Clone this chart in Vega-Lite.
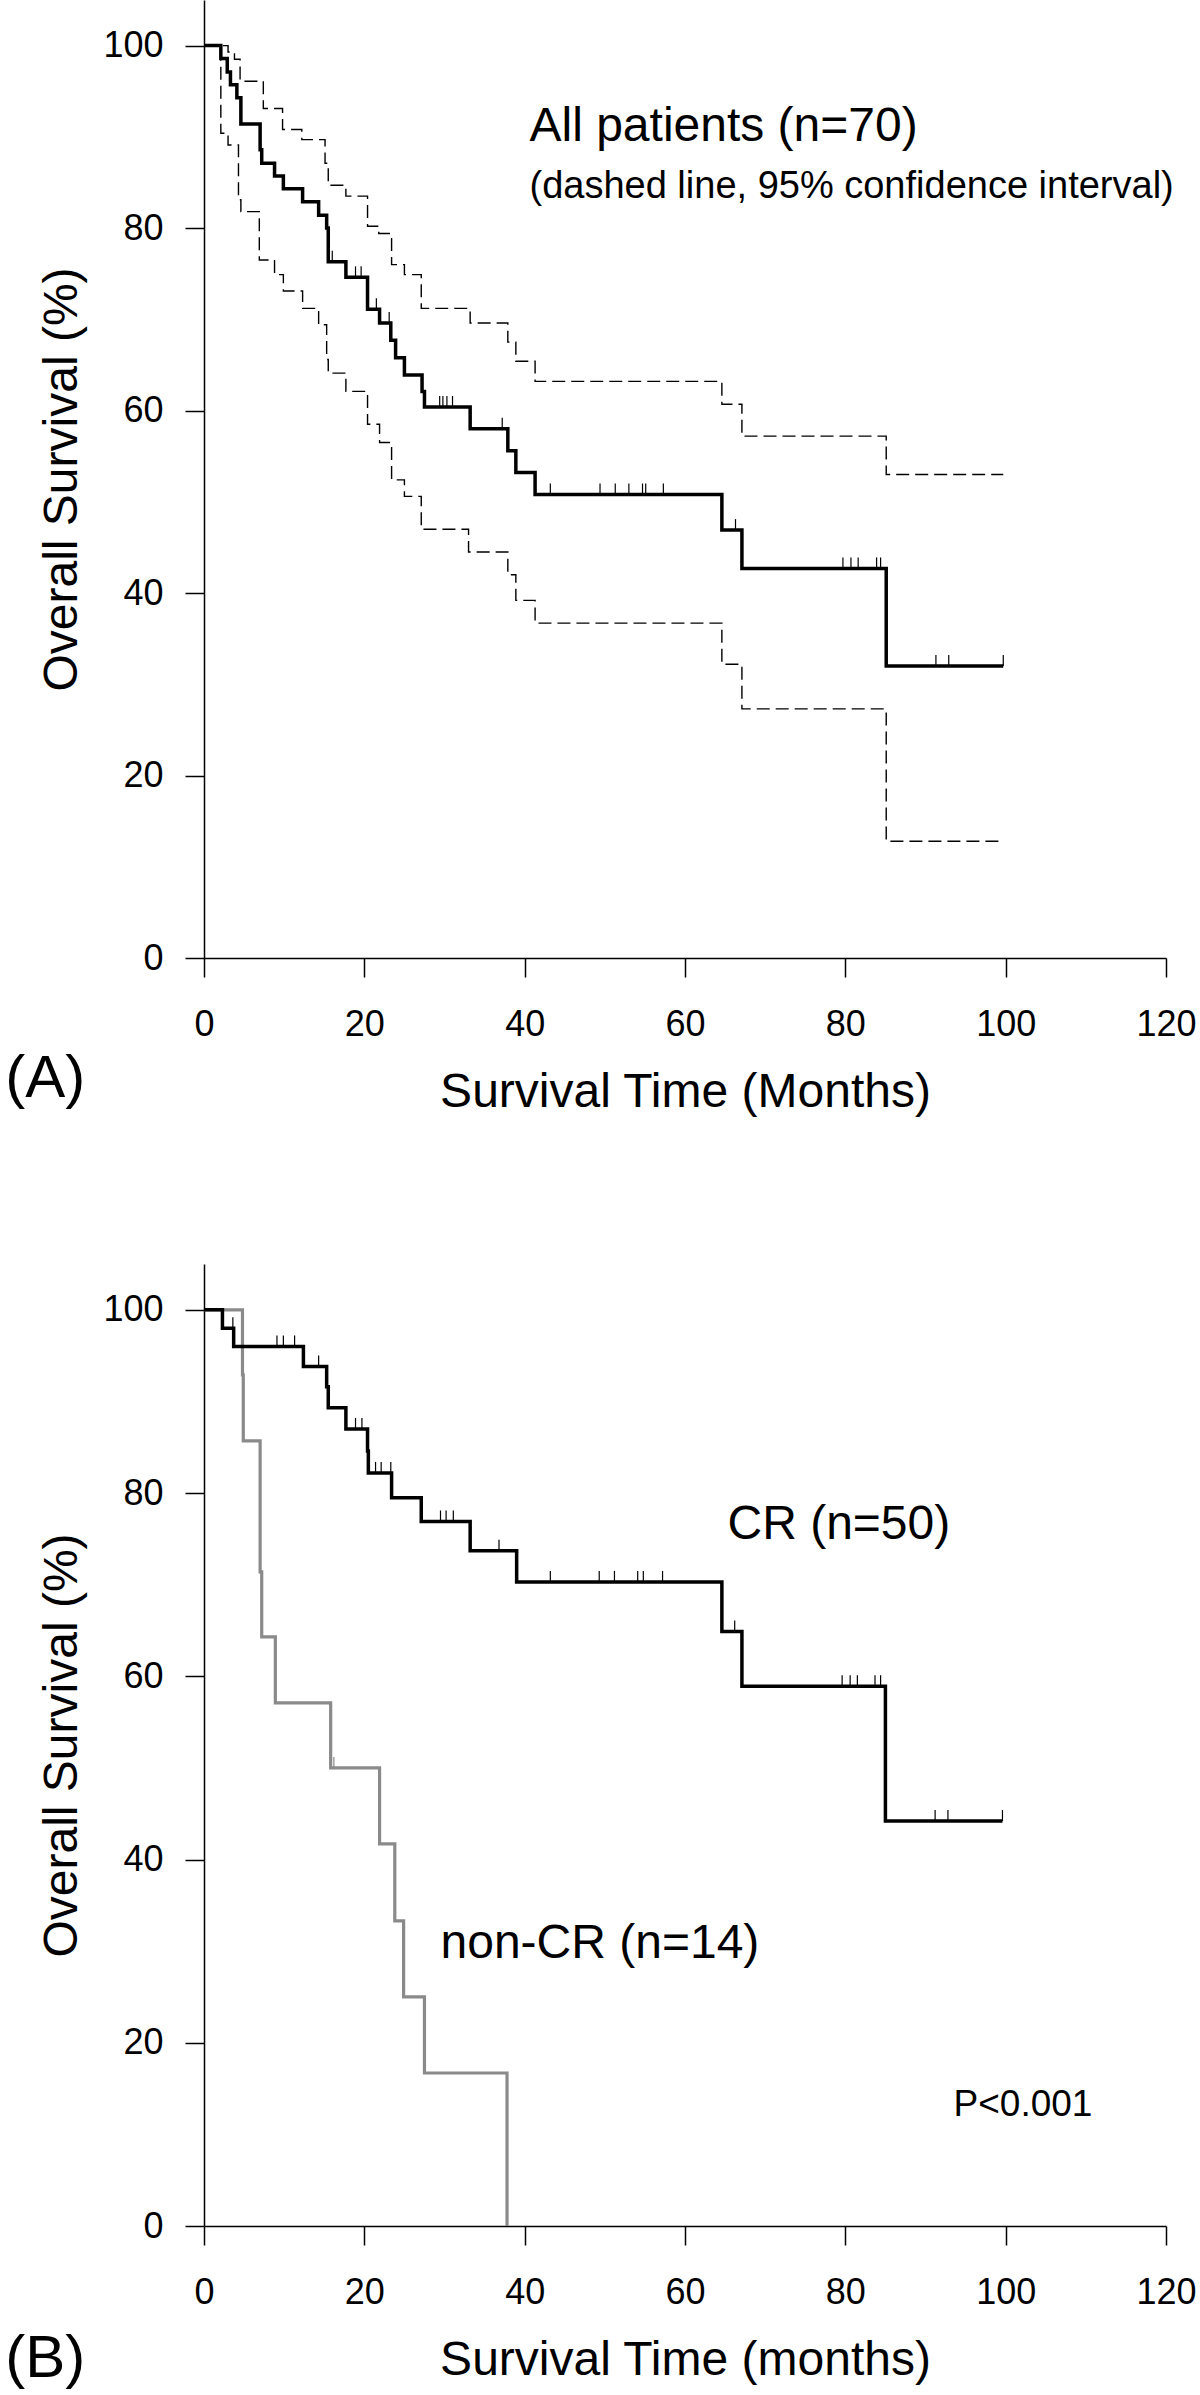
{
  "$schema": "https://vega.github.io/schema/vega-lite/v6.json",
  "padding": {"left": 5, "top": 0, "right": 0, "bottom": 0},
  "spacing": 148,
  "config": {
    "view": {"stroke": null},
    "font": "Liberation Sans",
    "axis": {"domainColor": "#000", "domainWidth": 1.5, "tickColor": "#000", "tickWidth": 1.5, "tickSize": 19, "labelFont": "Liberation Sans", "labelFontSize": 36, "labelColor": "#000", "titleFont": "Liberation Sans", "titleFontSize": 48, "titleFontWeight": "normal", "titleColor": "#000", "grid": false, "labelFlush": false, "labelOverlap": false},
    "axisX": {"labelPadding": 30, "titlePadding": 26},
    "axisY": {"labelPadding": 22, "titlePadding": 16}
  },
  "datasets": {
    "A_curves": [
      {"series":"est","t":0,"s":100},{"series":"est","t":2.1,"s":98.6},{"series":"est","t":2.9,"s":97.1},{"series":"est","t":3.3,"s":95.7},{"series":"est","t":4.1,"s":94.3},{"series":"est","t":4.6,"s":91.4},{"series":"est","t":7.0,"s":88.6},{"series":"est","t":7.2,"s":87.1},{"series":"est","t":8.8,"s":85.7},{"series":"est","t":9.9,"s":84.3},{"series":"est","t":12.3,"s":82.9},{"series":"est","t":14.3,"s":81.4},{"series":"est","t":15.3,"s":80.0},{"series":"est","t":15.5,"s":76.3},{"series":"est","t":17.7,"s":74.6},{"series":"est","t":20.4,"s":71.1},{"series":"est","t":21.9,"s":69.6},{"series":"est","t":23.3,"s":67.7},{"series":"est","t":23.9,"s":65.8},{"series":"est","t":25.0,"s":63.9},{"series":"est","t":27.2,"s":62.1},{"series":"est","t":27.5,"s":60.4},{"series":"est","t":33.2,"s":58.0},{"series":"est","t":37.9,"s":55.6},{"series":"est","t":38.9,"s":53.2},{"series":"est","t":41.3,"s":50.8},{"series":"est","t":64.6,"s":46.9},{"series":"est","t":67.1,"s":42.7},{"series":"est","t":85.1,"s":32.0},{"series":"est","t":99.7,"s":32.0},
      {"series":"upper","t":0,"s":100},{"series":"upper","t":3.0,"s":99.3},{"series":"upper","t":3.8,"s":98.5},{"series":"upper","t":4.5,"s":96.1},{"series":"upper","t":7.4,"s":93.1},{"series":"upper","t":9.8,"s":90.8},{"series":"upper","t":12.2,"s":89.7},{"series":"upper","t":15.1,"s":87.1},{"series":"upper","t":15.5,"s":84.7},{"series":"upper","t":17.7,"s":83.5},{"series":"upper","t":20.4,"s":80.2},{"series":"upper","t":21.8,"s":79.4},{"series":"upper","t":23.4,"s":76.0},{"series":"upper","t":25.0,"s":74.9},{"series":"upper","t":27.1,"s":71.2},{"series":"upper","t":33.2,"s":69.6},{"series":"upper","t":37.9,"s":67.5},{"series":"upper","t":38.9,"s":65.4},{"series":"upper","t":41.3,"s":63.2},{"series":"upper","t":64.6,"s":60.7},{"series":"upper","t":67.1,"s":57.2},{"series":"upper","t":85.1,"s":53.0},{"series":"upper","t":99.7,"s":53.0},
      {"series":"lower","t":0,"s":100},{"series":"lower","t":2.1,"s":90.4},{"series":"lower","t":3.0,"s":89.1},{"series":"lower","t":4.3,"s":83.1},{"series":"lower","t":4.6,"s":81.8},{"series":"lower","t":6.9,"s":76.5},{"series":"lower","t":8.8,"s":74.9},{"series":"lower","t":9.9,"s":73.1},{"series":"lower","t":12.3,"s":71.2},{"series":"lower","t":14.3,"s":69.4},{"series":"lower","t":15.3,"s":65.6},{"series":"lower","t":15.5,"s":64.1},{"series":"lower","t":17.7,"s":62.1},{"series":"lower","t":20.4,"s":58.5},{"series":"lower","t":21.9,"s":56.5},{"series":"lower","t":23.4,"s":52.4},{"series":"lower","t":25.0,"s":50.6},{"series":"lower","t":27.1,"s":47.0},{"series":"lower","t":33.0,"s":44.5},{"series":"lower","t":37.9,"s":42.0},{"series":"lower","t":38.9,"s":39.2},{"series":"lower","t":41.3,"s":36.7},{"series":"lower","t":64.6,"s":32.2},{"series":"lower","t":67.1,"s":27.3},{"series":"lower","t":85.1,"s":12.8},{"series":"lower","t":99.7,"s":12.8}
    ],
    "A_censor": [
      {"t":16.0,"s":76.3},{"t":18.9,"s":74.6},{"t":19.6,"s":74.6},{"t":21.5,"s":71.1},{"t":23.1,"s":69.6},
      {"t":29.4,"s":60.4},{"t":29.8,"s":60.4},{"t":30.3,"s":60.4},{"t":31.0,"s":60.4},{"t":37.2,"s":58.0},
      {"t":43.2,"s":50.8},{"t":49.4,"s":50.8},{"t":51.3,"s":50.8},{"t":53.0,"s":50.8},{"t":54.7,"s":50.8},{"t":55.1,"s":50.8},{"t":57.3,"s":50.8},
      {"t":66.3,"s":46.9},{"t":79.7,"s":42.7},{"t":80.7,"s":42.7},{"t":81.6,"s":42.7},{"t":83.9,"s":42.7},{"t":84.4,"s":42.7},
      {"t":91.3,"s":32.0},{"t":92.9,"s":32.0},{"t":99.7,"s":32.0}
    ],
    "B_curves": [
      {"series":"CR","t":0,"s":100},{"series":"CR","t":2.3,"s":98.0},{"series":"CR","t":3.7,"s":96.0},{"series":"CR","t":12.4,"s":93.8},{"series":"CR","t":15.3,"s":91.6},{"series":"CR","t":15.5,"s":89.3},{"series":"CR","t":17.7,"s":87.0},{"series":"CR","t":20.4,"s":84.6},{"series":"CR","t":20.5,"s":82.2},{"series":"CR","t":23.4,"s":79.5},{"series":"CR","t":27.1,"s":76.9},{"series":"CR","t":33.2,"s":73.7},{"series":"CR","t":39.0,"s":70.3},{"series":"CR","t":64.6,"s":64.9},{"series":"CR","t":67.1,"s":58.9},{"series":"CR","t":85.0,"s":44.2},{"series":"CR","t":99.6,"s":44.2},
      {"series":"nonCR","t":0,"s":100},{"series":"nonCR","t":4.8,"s":92.9},{"series":"nonCR","t":4.9,"s":85.7},{"series":"nonCR","t":7.0,"s":71.4},{"series":"nonCR","t":7.2,"s":64.3},{"series":"nonCR","t":8.9,"s":57.1},{"series":"nonCR","t":15.8,"s":50.0},{"series":"nonCR","t":21.9,"s":41.7},{"series":"nonCR","t":23.8,"s":33.3},{"series":"nonCR","t":24.9,"s":25.0},{"series":"nonCR","t":27.5,"s":16.7},{"series":"nonCR","t":37.8,"s":0}
    ],
    "B_censor": [
      {"series":"CR","t":3.6,"s":98.0},{"series":"CR","t":9.1,"s":96.0},{"series":"CR","t":9.9,"s":96.0},{"series":"CR","t":11.3,"s":96.0},{"series":"CR","t":14.3,"s":93.8},
      {"series":"CR","t":18.9,"s":87.0},{"series":"CR","t":19.7,"s":87.0},{"series":"CR","t":21.4,"s":82.2},{"series":"CR","t":22.1,"s":82.2},{"series":"CR","t":23.3,"s":82.2},
      {"series":"CR","t":29.5,"s":76.9},{"series":"CR","t":30.2,"s":76.9},{"series":"CR","t":31.1,"s":76.9},{"series":"CR","t":36.8,"s":73.7},
      {"series":"CR","t":43.2,"s":70.3},{"series":"CR","t":49.3,"s":70.3},{"series":"CR","t":51.2,"s":70.3},{"series":"CR","t":54.1,"s":70.3},{"series":"CR","t":54.8,"s":70.3},{"series":"CR","t":57.2,"s":70.3},
      {"series":"CR","t":66.2,"s":64.9},{"series":"CR","t":79.6,"s":58.9},{"series":"CR","t":80.6,"s":58.9},{"series":"CR","t":81.5,"s":58.9},{"series":"CR","t":83.7,"s":58.9},{"series":"CR","t":84.4,"s":58.9},
      {"series":"CR","t":91.2,"s":44.2},{"series":"CR","t":92.8,"s":44.2},{"series":"CR","t":99.6,"s":44.2},
      {"series":"nonCR","t":16.2,"s":50.0}
    ]
  },
  "vconcat": [
    {
      "width": 962,
      "height": 958,
      "encoding": {
        "x": {"field": "t", "type": "quantitative", "scale": {"domain": [0, 120], "nice": false}, "axis": {"values": [0, 20, 40, 60, 80, 100, 120], "title": "Survival Time (Months)"}},
        "y": {"field": "s", "type": "quantitative", "scale": {"domain": [0, 105], "nice": false}, "axis": {"values": [0, 20, 40, 60, 80, 100], "title": "Overall Survival (%)"}}
      },
      "layer": [
        {"data": {"name": "A_curves"}, "transform": [{"filter": "datum.series !== 'est'"}], "mark": {"type": "line", "interpolate": "step-after", "color": "#000", "strokeWidth": 1.4, "strokeDash": [13, 6]}, "encoding": {"detail": {"field": "series"}}},
        {"data": {"name": "A_curves"}, "transform": [{"filter": "datum.series === 'est'"}], "mark": {"type": "line", "interpolate": "step-after", "color": "#000", "strokeWidth": 3.5}},
        {"data": {"name": "A_censor"}, "mark": {"type": "tick", "orient": "vertical", "color": "#000", "size": 11, "thickness": 1.2, "yOffset": -5.5, "opacity": 1}},
        {"data": {"values": [{"t": 40.6, "s": 89.5, "label": "All patients (n=70)"}]}, "mark": {"type": "text", "align": "left", "baseline": "alphabetic", "fontSize": 48, "color": "#000"}, "encoding": {"text": {"field": "label"}}},
        {"data": {"values": [{"t": 40.6, "s": 83.3, "label": "(dashed line, 95% confidence interval)"}]}, "mark": {"type": "text", "align": "left", "baseline": "alphabetic", "fontSize": 38, "color": "#000"}, "encoding": {"text": {"field": "label"}}},
        {"data": {"values": [{"t": -24.8, "s": -15.2, "label": "(A)"}]}, "mark": {"type": "text", "align": "left", "baseline": "alphabetic", "fontSize": 60, "color": "#000"}, "encoding": {"text": {"field": "label"}}}
      ]
    },
    {
      "width": 962,
      "height": 962,
      "encoding": {
        "x": {"field": "t", "type": "quantitative", "scale": {"domain": [0, 120], "nice": false}, "axis": {"values": [0, 20, 40, 60, 80, 100, 120], "title": "Survival Time (months)"}},
        "y": {"field": "s", "type": "quantitative", "scale": {"domain": [0, 105], "nice": false}, "axis": {"values": [0, 20, 40, 60, 80, 100], "title": "Overall Survival (%)"}}
      },
      "layer": [
        {"data": {"name": "B_curves"}, "transform": [{"filter": "datum.series === 'nonCR'"}], "mark": {"type": "line", "interpolate": "step-after", "color": "#8a8a8a", "strokeWidth": 3.2}},
        {"data": {"name": "B_curves"}, "transform": [{"filter": "datum.series === 'CR'"}], "mark": {"type": "line", "interpolate": "step-after", "color": "#000", "strokeWidth": 3.5}},
        {"data": {"name": "B_censor"}, "transform": [{"filter": "datum.series === 'CR'"}], "mark": {"type": "tick", "orient": "vertical", "color": "#000", "size": 11, "thickness": 1.2, "yOffset": -5.5, "opacity": 1}},
        {"data": {"name": "B_censor"}, "transform": [{"filter": "datum.series === 'nonCR'"}], "mark": {"type": "tick", "orient": "vertical", "color": "#8a8a8a", "size": 11, "thickness": 1.2, "yOffset": -5.5, "opacity": 1}},
        {"data": {"values": [{"t": 65.3, "s": 75.0, "label": "CR (n=50)"}, {"t": 29.5, "s": 29.3, "label": "non-CR (n=14)"}]}, "mark": {"type": "text", "align": "left", "baseline": "alphabetic", "fontSize": 48, "color": "#000"}, "encoding": {"text": {"field": "label"}}},
        {"data": {"values": [{"t": 93.5, "s": 12.0, "label": "P<0.001"}]}, "mark": {"type": "text", "align": "left", "baseline": "alphabetic", "fontSize": 37, "color": "#000"}, "encoding": {"text": {"field": "label"}}},
        {"data": {"values": [{"t": -24.8, "s": -16.5, "label": "(B)"}]}, "mark": {"type": "text", "align": "left", "baseline": "alphabetic", "fontSize": 60, "color": "#000"}, "encoding": {"text": {"field": "label"}}}
      ]
    }
  ]
}
